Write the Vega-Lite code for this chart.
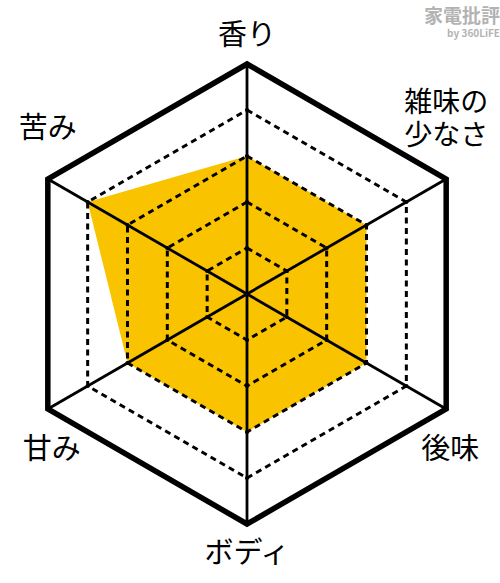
{
  "$schema": "https://vega.github.io/schema/vega-lite/v6.json",
  "width": 500,
  "height": 583,
  "autosize": {"type": "none"},
  "padding": 0,
  "background": "white",
  "config": {
    "view": {"stroke": null},
    "font": "Noto Sans CJK JP",
    "text": {"font": "Noto Sans CJK JP"}
  },
  "title": {
    "text": "家電批評",
    "subtitle": "by 360LiFE",
    "anchor": "end",
    "orient": "top",
    "offset": -39,
    "color": "#b3b3b3",
    "fontSize": 19,
    "fontWeight": "bold",
    "subtitleColor": "#b3b3b3",
    "subtitleFontSize": 10,
    "subtitleFontWeight": "bold",
    "subtitlePadding": 2
  },
  "datasets": {
    "flavor": [
      {"axis": "香り", "i": 0, "value": 3, "levels": [1, 2, 3, 4, 5]},
      {"axis": "雑味の\n少なさ", "i": 1, "value": 3, "levels": [1, 2, 3, 4, 5]},
      {"axis": "後味", "i": 2, "value": 3, "levels": [1, 2, 3, 4, 5]},
      {"axis": "ボディ", "i": 3, "value": 3, "levels": [1, 2, 3, 4, 5]},
      {"axis": "甘み", "i": 4, "value": 3, "levels": [1, 2, 3, 4, 5]},
      {"axis": "苦み", "i": 5, "value": 4, "levels": [1, 2, 3, 4, 5]}
    ]
  },
  "data": {"name": "flavor"},
  "transform": [
    {"calculate": "datum.i * PI / 3", "as": "angle"},
    {"calculate": "5 * sin(datum.angle)", "as": "vx"},
    {"calculate": "5 * cos(datum.angle)", "as": "vy"}
  ],
  "layer": [
    {
      "transform": [
        {"calculate": "datum.value * sin(datum.angle)", "as": "px"},
        {"calculate": "datum.value * cos(datum.angle)", "as": "py"}
      ],
      "mark": {"type": "line", "interpolate": "linear-closed", "filled": true, "color": "#f9c300", "strokeWidth": 0},
      "encoding": {
        "x": {"field": "px", "type": "quantitative", "scale": {"domain": [-5.3696, 5.5], "nice": false, "zero": false}, "axis": null},
        "y": {"field": "py", "type": "quantitative", "scale": {"domain": [-6.2826, 6.3913], "nice": false, "zero": false}, "axis": null},
        "order": {"field": "i"}
      }
    },
    {
      "transform": [
        {"flatten": ["levels"], "as": ["level"]},
        {"filter": "datum.level < 5"},
        {"calculate": "datum.level * sin(datum.angle)", "as": "px"},
        {"calculate": "datum.level * cos(datum.angle)", "as": "py"}
      ],
      "mark": {"type": "line", "interpolate": "linear-closed", "color": "black", "strokeWidth": 3, "strokeDash": [6, 4.5]},
      "encoding": {
        "x": {"field": "px", "type": "quantitative"},
        "y": {"field": "py", "type": "quantitative"},
        "detail": {"field": "level"},
        "order": {"field": "i"}
      }
    },
    {
      "mark": {"type": "rule", "color": "black", "strokeWidth": 2.8},
      "encoding": {
        "x": {"field": "vx", "type": "quantitative"},
        "y": {"field": "vy", "type": "quantitative"},
        "x2": {"datum": 0},
        "y2": {"datum": 0}
      }
    },
    {
      "transform": [
        {"calculate": "5 * sin(datum.angle)", "as": "px"},
        {"calculate": "5 * cos(datum.angle)", "as": "py"}
      ],
      "mark": {"type": "line", "interpolate": "linear-closed", "color": "black", "strokeWidth": 5.5, "strokeJoin": "miter"},
      "encoding": {
        "x": {"field": "px", "type": "quantitative"},
        "y": {"field": "py", "type": "quantitative"},
        "order": {"field": "i"}
      }
    },
    {
      "transform": [
        {"flatten": ["levels"], "as": ["level"]},
        {"filter": "datum.level < 5"},
        {"calculate": "datum.level * sin(datum.angle)", "as": "px"},
        {"calculate": "datum.level * cos(datum.angle)", "as": "py"}
      ],
      "mark": {"type": "point", "filled": true, "color": "black", "size": 18, "opacity": 1},
      "encoding": {
        "x": {"field": "px", "type": "quantitative"},
        "y": {"field": "py", "type": "quantitative"}
      }
    },
    {
      "transform": [{"filter": "datum.i == 0"}],
      "mark": {"type": "text", "fontSize": 29, "baseline": "middle", "align": "center", "dy": -28, "color": "black"},
      "encoding": {
        "x": {"field": "vx", "type": "quantitative"},
        "y": {"field": "vy", "type": "quantitative"},
        "text": {"field": "axis"}
      }
    },
    {
      "transform": [{"filter": "datum.i == 1"}],
      "mark": {"type": "text", "fontSize": 28, "baseline": "middle", "align": "center", "dy": -75, "lineBreak": "\n", "lineHeight": 33, "color": "black"},
      "encoding": {
        "x": {"field": "vx", "type": "quantitative"},
        "y": {"field": "vy", "type": "quantitative"},
        "text": {"field": "axis"}
      }
    },
    {
      "transform": [{"filter": "datum.i == 5"}],
      "mark": {"type": "text", "fontSize": 29, "baseline": "middle", "align": "center", "dy": -50, "color": "black"},
      "encoding": {
        "x": {"field": "vx", "type": "quantitative"},
        "y": {"field": "vy", "type": "quantitative"},
        "text": {"field": "axis"}
      }
    },
    {
      "transform": [{"filter": "datum.i == 2 || datum.i == 4"}],
      "mark": {"type": "text", "fontSize": 29, "baseline": "middle", "align": "center", "dy": 41, "dx": 4, "color": "black"},
      "encoding": {
        "x": {"field": "vx", "type": "quantitative"},
        "y": {"field": "vy", "type": "quantitative"},
        "text": {"field": "axis"}
      }
    },
    {
      "transform": [{"filter": "datum.i == 3"}],
      "mark": {"type": "text", "fontSize": 29, "baseline": "middle", "align": "center", "dy": 30, "color": "black"},
      "encoding": {
        "x": {"field": "vx", "type": "quantitative"},
        "y": {"field": "vy", "type": "quantitative"},
        "text": {"field": "axis"}
      }
    }
  ]
}
